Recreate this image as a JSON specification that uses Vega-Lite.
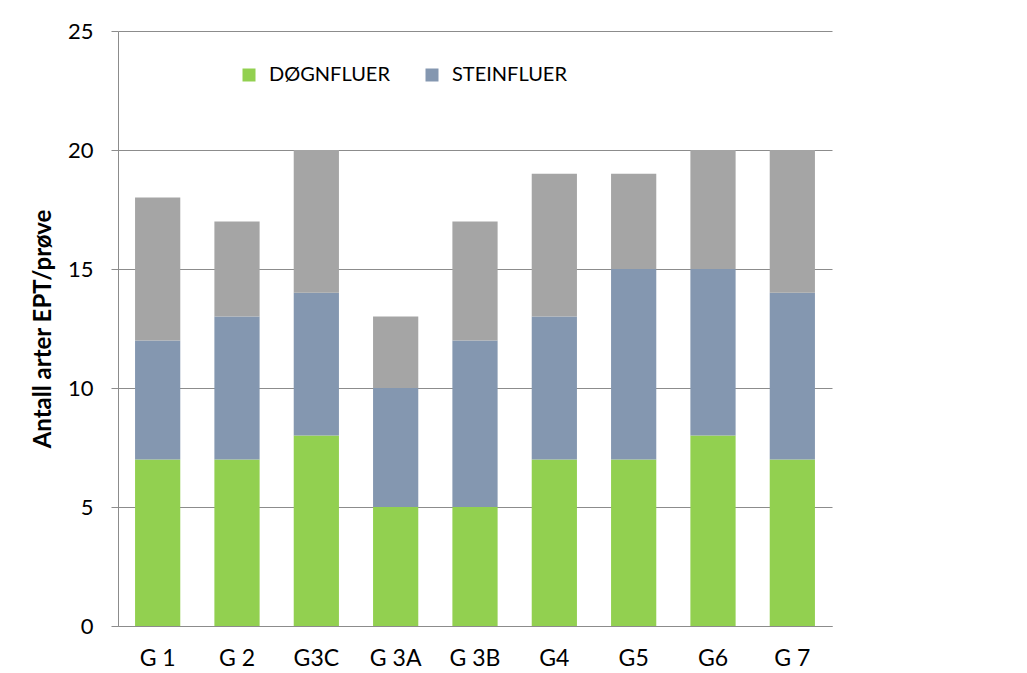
{
  "$schema": "https://vega.github.io/schema/vega-lite/v6.json",
  "width": 714,
  "height": 595,
  "autosize": {"type": "none"},
  "padding": {"left": 118, "top": 31, "right": 195, "bottom": 47},
  "background": "white",
  "data": {
    "values": [
      {"stasjon": "G 1", "gruppe": "DØGNFLUER", "antall": 7},
      {"stasjon": "G 1", "gruppe": "STEINFLUER", "antall": 5},
      {"stasjon": "G 1", "gruppe": "VÅRFLUER", "antall": 6},
      {"stasjon": "G 2", "gruppe": "DØGNFLUER", "antall": 7},
      {"stasjon": "G 2", "gruppe": "STEINFLUER", "antall": 6},
      {"stasjon": "G 2", "gruppe": "VÅRFLUER", "antall": 4},
      {"stasjon": "G3C", "gruppe": "DØGNFLUER", "antall": 8},
      {"stasjon": "G3C", "gruppe": "STEINFLUER", "antall": 6},
      {"stasjon": "G3C", "gruppe": "VÅRFLUER", "antall": 6},
      {"stasjon": "G 3A", "gruppe": "DØGNFLUER", "antall": 5},
      {"stasjon": "G 3A", "gruppe": "STEINFLUER", "antall": 5},
      {"stasjon": "G 3A", "gruppe": "VÅRFLUER", "antall": 3},
      {"stasjon": "G 3B", "gruppe": "DØGNFLUER", "antall": 5},
      {"stasjon": "G 3B", "gruppe": "STEINFLUER", "antall": 7},
      {"stasjon": "G 3B", "gruppe": "VÅRFLUER", "antall": 5},
      {"stasjon": "G4", "gruppe": "DØGNFLUER", "antall": 7},
      {"stasjon": "G4", "gruppe": "STEINFLUER", "antall": 6},
      {"stasjon": "G4", "gruppe": "VÅRFLUER", "antall": 6},
      {"stasjon": "G5", "gruppe": "DØGNFLUER", "antall": 7},
      {"stasjon": "G5", "gruppe": "STEINFLUER", "antall": 8},
      {"stasjon": "G5", "gruppe": "VÅRFLUER", "antall": 4},
      {"stasjon": "G6", "gruppe": "DØGNFLUER", "antall": 8},
      {"stasjon": "G6", "gruppe": "STEINFLUER", "antall": 7},
      {"stasjon": "G6", "gruppe": "VÅRFLUER", "antall": 5},
      {"stasjon": "G 7", "gruppe": "DØGNFLUER", "antall": 7},
      {"stasjon": "G 7", "gruppe": "STEINFLUER", "antall": 7},
      {"stasjon": "G 7", "gruppe": "VÅRFLUER", "antall": 6}
    ]
  },
  "mark": {"type": "bar"},
  "encoding": {
    "x": {
      "field": "stasjon",
      "type": "nominal",
      "sort": null,
      "scale": {"paddingInner": 0.43, "paddingOuter": 0.215},
      "axis": {
        "title": null,
        "labelAngle": 0,
        "ticks": false,
        "labelPadding": 21,
        "labelFont": "Lato",
        "labelFontSize": 23,
        "labelColor": "#000000",
        "domainColor": "#8c8c8c",
        "grid": false
      }
    },
    "y": {
      "field": "antall",
      "type": "quantitative",
      "stack": "zero",
      "scale": {"domain": [0, 25], "nice": false},
      "axis": {
        "values": [0, 5, 10, 15, 20, 25],
        "title": "Antall arter EPT/prøve",
        "titleFont": "Lato",
        "titleFontSize": 24,
        "titleFontWeight": "bold",
        "titleColor": "#000000",
        "titlePadding": 12,
        "labelFont": "Lato",
        "labelFontSize": 22,
        "labelColor": "#000000",
        "tickSize": 7,
        "labelPadding": 18,
        "tickColor": "#8c8c8c",
        "domainColor": "#8c8c8c",
        "gridColor": "#8c8c8c",
        "gridOpacity": 1
      }
    },
    "order": {"field": "gruppe", "sort": "ascending"},
    "color": {
      "field": "gruppe",
      "type": "nominal",
      "scale": {
        "domain": ["DØGNFLUER", "STEINFLUER", "VÅRFLUER"],
        "range": ["#92D050", "#8497B0", "#A5A5A5"]
      },
      "legend": {
        "values": ["DØGNFLUER", "STEINFLUER"],
        "title": null,
        "orient": "none",
        "direction": "horizontal",
        "legendX": 121,
        "legendY": 34,
        "symbolType": "square",
        "symbolSize": 169,
        "symbolStrokeWidth": 0,
        "labelFont": "Lato",
        "labelFontSize": 20,
        "labelColor": "#000000",
        "labelOffset": 10,
        "columnPadding": 32
      }
    }
  },
  "config": {"view": {"stroke": null}}
}
